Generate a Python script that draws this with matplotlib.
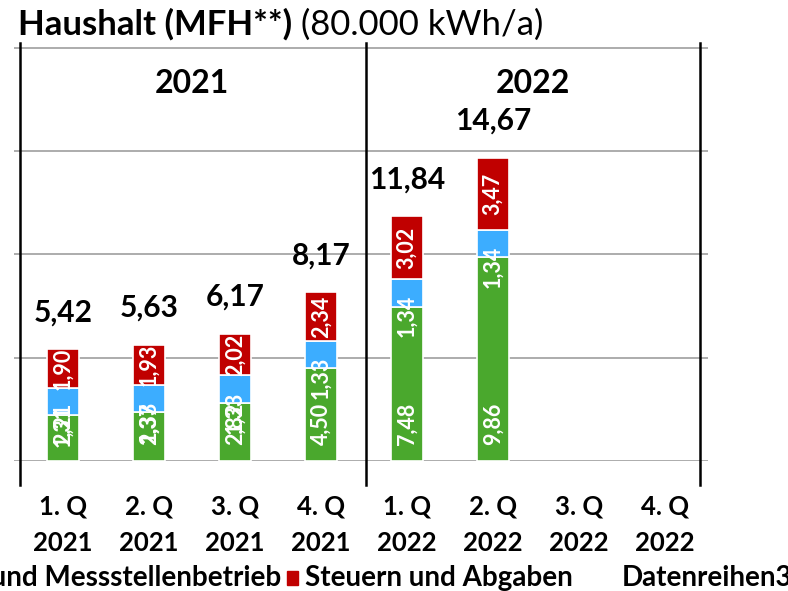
import matplotlib
matplotlib.use('Agg')
import matplotlib.pyplot as plt
from matplotlib.patches import Rectangle

plt.rcParams['font.family'] = ['Lato', 'DejaVu Sans']

# data
quarters = ['1. Q\n2021', '2. Q\n2021', '3. Q\n2021', '4. Q\n2021',
            '1. Q\n2022', '2. Q\n2022', '3. Q\n2022', '4. Q\n2022']
energie = [2.21, 2.37, 2.82, 4.50, 7.48, 9.86]
netz = [1.31, 1.33, 1.33, 1.33, 1.34, 1.34]
steuern = [1.90, 1.93, 2.02, 2.34, 3.02, 3.47]
totals = [5.42, 5.63, 6.17, 8.17, 11.84, 14.67]
years = ['2021', '2022']
legend_labels = ['Netzentgelte und Messstellenbetrieb', 'Steuern und Abgaben', 'Datenreihen3']

green = '#4aa82d'
blue = '#3cadff'
red = '#c00000'

def fmt(v):
    return f'{v:.2f}'.replace('.', ',')

W, H = 788, 591
fig = plt.figure(figsize=(W / 100, H / 100), dpi=100)
ax = fig.add_axes([14 / W, 130 / H, 694 / W, 418 / H])
ax.set_xlim(-0.57, 7.5)
ax.set_ylim(0, 20.24)

for g in [0, 5, 10, 15, 20]:
    ax.axhline(g, color='#a6a6a6', lw=1.3, zorder=0)

# separators
for xv in [-0.5, 3.52, 7.41]:
    ax.plot([xv, xv], [-1.16, 20.24], color='black', lw=1.8, clip_on=False, zorder=3)

n = len(energie)
x = list(range(n))
bw = 0.38
bottom2 = [a + b for a, b in zip(energie, netz)]
ax.bar(x, energie, bw, color=green, edgecolor='white', lw=1.2, zorder=2)
ax.bar(x, netz, bw, bottom=energie, color=blue, edgecolor='white', lw=1.2, zorder=2)
ax.bar(x, steuern, bw, bottom=bottom2, color=red, edgecolor='white', lw=1.2, zorder=2)

lab = dict(color='white', fontsize=15.5, fontweight='bold', rotation=90,
           ha='center', textcoords='offset points', zorder=4)
for i in range(n):
    ax.annotate(fmt(energie[i]), (i, 0), xytext=(0, 11.5), va='bottom', **lab)
    ax.annotate(fmt(netz[i]), (i, bottom2[i]), xytext=(0, -11.5), va='top', **lab)
    ax.annotate(fmt(steuern[i]), (i, bottom2[i] + steuern[i] / 2), xytext=(0, 0),
                va='center', **lab)
    ax.annotate(fmt(totals[i]), (i, totals[i]), xytext=(0, 26.6), textcoords='offset points',
                ha='center', va='center', fontsize=21.5, fontweight='bold')

ax.text(1.5, 18.3, years[0], ha='center', va='center', fontsize=23, fontweight='bold')
ax.text(5.47, 18.3, years[1], ha='center', va='center', fontsize=23, fontweight='bold')

ax.set_xticks(range(len(quarters)))
ax.set_xticklabels(quarters, fontsize=18.5, fontweight='bold', linespacing=1.65)
ax.tick_params(axis='x', length=0, pad=24)
ax.set_yticks([])
for s in ax.spines.values():
    s.set_visible(False)

# title
t1 = fig.text(18 / W, 1 - 35 / H, 'Haushalt (MFH**)', fontsize=25, fontweight='bold', va='baseline')
fig.canvas.draw()
bb = t1.get_window_extent()
fig.text(bb.x1 / W, 1 - 35 / H, ' (80.000 kWh/a)', fontsize=25, va='baseline')

# legend (runs off the edges of the figure)
ly = 1 - 578 / H
fig.text(281 / W, ly, legend_labels[0], ha='right', va='center', fontsize=20, fontweight='bold')
fig.patches.append(Rectangle((287 / W, 1 - 585 / H), 11 / W, 14 / H, color=red,
                             transform=fig.transFigure, figure=fig))
fig.text(305 / W, ly, legend_labels[1], ha='left', va='center', fontsize=20, fontweight='bold')
fig.text(622 / W, ly, legend_labels[2], ha='left', va='center', fontsize=20, fontweight='bold')

fig.savefig('out.png', dpi=100)
